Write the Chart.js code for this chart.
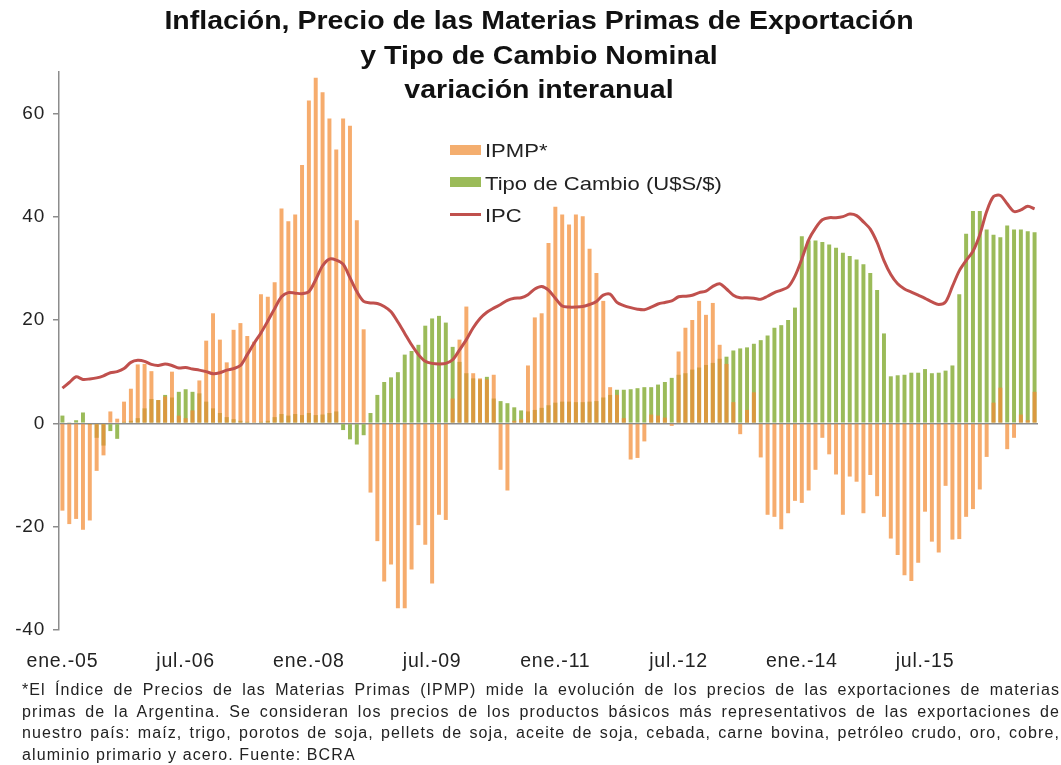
<!DOCTYPE html>
<html lang="es">
<head>
<meta charset="utf-8">
<title>Inflación, Precio de las Materias Primas de Exportación y Tipo de Cambio Nominal</title>
<script src="https://cdn.jsdelivr.net/npm/chart.js@4.4.1/dist/chart.umd.min.js"></script>
<style>
html,body{margin:0;padding:0;background:#fff;}
body{width:1061px;height:765px;position:relative;overflow:hidden;font-family:"Liberation Sans",Arial,sans-serif;color:#222;}
#grafico{position:absolute;left:0;top:0;}
.titulo{position:absolute;left:0;top:3px;width:1078px;text-align:center;font-weight:bold;font-size:25px;line-height:34.5px;color:#111;transform:scaleX(1.14);transform-origin:539px 0;}
.leyenda{position:absolute;left:450px;top:135px;font-size:19px;color:#222;}
.leyenda .item{height:32.5px;line-height:32.5px;white-space:nowrap;}
.leyenda .sw{display:inline-block;width:31px;vertical-align:middle;margin-right:4px;position:relative;top:-2px;}
.leyenda .txt{display:inline-block;transform:scaleX(1.16);transform-origin:0 50%;}
.sw.naranja{height:10px;background:#f4ae6f;}
.sw.verde{height:10px;background:#9bbb59;}
.sw.linea{height:3px;background:#c0504d;}
.nota{position:absolute;left:22px;top:679px;width:1038px;font-size:16px;letter-spacing:1.1px;line-height:21.5px;color:#222;}
.nota div{text-align:justify;text-align-last:justify;white-space:nowrap;}
.nota div.ultima{text-align-last:left;}
</style>
</head>
<body>
<canvas id="grafico" width="1061" height="680"></canvas>
<div class="titulo">Inflación, Precio de las Materias Primas de Exportación<br>y Tipo de Cambio Nominal<br>variación interanual</div>
<div class="leyenda">
  <div class="item"><span class="sw naranja"></span><span class="txt">IPMP*</span></div>
  <div class="item"><span class="sw verde"></span><span class="txt">Tipo de Cambio (U$S/$)</span></div>
  <div class="item"><span class="sw linea"></span><span class="txt">IPC</span></div>
</div>
<div class="nota">
  <div>*El Índice de Precios de las Materias Primas (IPMP) mide la evolución de los precios de las exportaciones de materias</div>
  <div>primas de la Argentina. Se consideran los precios de los productos básicos más representativos de las exportaciones de</div>
  <div>nuestro país: maíz, trigo, porotos de soja, pellets de soja, aceite de soja, cebada, carne bovina, petróleo crudo, oro, cobre,</div>
  <div class="ultima">aluminio primario y acero. Fuente: BCRA</div>
</div>
<script>
// meses ene.-05 ... nov.-16
const mesesAbrev = ['ene.','feb.','mar.','abr.','may.','jun.','jul.','ago.','sep.','oct.','nov.','dic.'];
const anios = ['05','06','07','08','09','10','11','12','13','14','15','16'];
const etiquetasVisibles = ['ene.-05','jul.-06','ene.-08','jul.-09','ene.-11','jul.-12','ene.-14','jul.-15'];

// IPMP* (var. % i.a.)
const ipmp = [
-16.9,-19.5,-18.5,-20.6,-18.8,-9.2,-6.2,2.3,0.9,4.2,6.7,11.4,
11.5,10.1,4.5,5.2,10.0,1.5,1.0,2.5,8.3,16.0,21.3,16.2,
11.8,18.1,19.4,16.9,15.8,25.0,24.5,27.3,41.6,39.1,40.4,50.0,
62.5,66.9,64.1,59.0,53.0,59.0,57.6,39.3,18.2,-13.4,-22.8,-30.6,
-27.3,-35.8,-35.8,-28.3,-19.7,-23.5,-31.0,-17.7,-18.7,4.8,16.2,22.6,
9.7,8.7,8.5,9.4,-9.0,-13.0,0.5,0.8,11.2,20.5,21.3,34.9,
41.9,40.4,38.5,40.4,40.1,33.8,29.1,23.7,7.0,5.5,1.0,-7.0,
-6.7,-3.5,1.7,1.5,1.1,-0.5,13.9,18.5,20.0,23.7,21.0,23.3,
15.2,11.5,4.1,-2.1,2.6,6.0,-6.6,-17.7,-18.1,-20.5,-17.4,-15.0,
-15.4,-13.0,-9.0,-2.8,-6.0,-9.9,-17.7,-10.3,-11.3,-17.4,-10.0,-14.1,
-18.1,-22.3,-25.5,-29.4,-30.5,-27.0,-17.1,-22.9,-25.0,-12.1,-22.5,-22.4,
-18.1,-16.6,-12.8,-6.5,4.0,6.9,-5.0,-2.8,1.7,0.6,6.1
];

// Tipo de Cambio (U$S/$)
const tipoCambio = [
1.5,0.2,0.6,2.1,-0.3,-2.8,-4.3,-1.5,-3.0,0.3,0.5,1.0,
2.9,4.7,4.5,5.5,5.0,6.1,6.6,6.1,5.8,4.2,2.9,2.0,
1.2,0.8,0.5,0.3,0.2,0.3,0.5,1.2,1.8,1.5,1.8,1.6,
2.0,1.6,1.7,2.0,2.3,-1.3,-3.1,-4.1,-2.3,2.0,5.5,8.0,
8.9,9.9,13.3,14.0,15.2,18.9,20.3,20.8,19.5,14.8,11.9,9.7,
8.7,8.5,9.0,4.8,4.3,3.9,3.1,2.5,2.3,2.6,3.0,3.5,
4.0,4.2,4.2,4.1,4.1,4.2,4.3,5.0,5.5,6.5,6.5,6.6,
6.8,7.0,7.0,7.5,8.0,8.8,9.4,9.7,10.4,10.8,11.3,11.7,
12.5,12.9,14.1,14.5,14.7,15.4,16.1,17.0,18.5,19.0,20.0,22.4,
36.2,35.4,35.4,35.1,34.6,34.0,33.0,32.4,31.7,30.8,29.1,25.8,
17.4,9.1,9.3,9.4,9.8,9.8,10.5,9.7,9.8,10.2,11.2,25.0,
36.7,41.1,41.1,37.5,36.5,36.0,38.3,37.5,37.5,37.2,37.0
];

// IPC
const ipc = [
6.8,7.9,9.0,8.5,8.6,8.8,9.2,9.8,10.0,10.6,11.8,12.2,
12.0,11.4,11.2,11.5,11.2,10.7,10.8,10.5,10.3,10.0,9.6,9.8,
10.3,10.6,11.2,13.3,15.5,17.5,19.8,22.2,24.5,25.3,25.2,25.1,
25.5,27.8,30.5,31.8,31.6,30.8,28.2,25.5,23.6,23.3,23.2,22.6,
21.6,19.6,17.4,15.2,13.3,12.0,11.6,11.5,11.6,12.3,14.2,16.2,
18.5,20.3,21.5,22.3,23.0,23.8,24.2,24.3,24.9,26.0,26.5,25.8,
24.2,22.7,22.5,22.5,22.6,23.0,23.6,24.8,25.0,23.4,22.8,22.4,
22.1,22.0,22.5,23.1,23.4,23.7,24.5,24.6,24.8,25.3,25.6,26.5,
27.0,26.0,24.8,24.3,24.3,24.2,24.0,24.6,25.3,25.8,26.4,28.5,
31.8,35.5,37.8,39.4,39.8,39.8,40.0,40.5,40.2,39.0,37.6,35.0,
31.5,28.8,27.0,26.0,25.4,24.8,24.2,23.5,23.0,23.5,26.5,29.5,
31.5,33.3,36.5,41.0,43.9,44.1,42.5,41.0,41.3,42.0,41.5
];

let etiquetas = [];
anios.forEach(a => {
  mesesAbrev.forEach(m => etiquetas.push(m + '-' + a));
});
etiquetas = etiquetas.slice(0, ipc.length);

const fuenteY = {family: '"Liberation Sans", Arial, sans-serif', size: 19};
const fuenteX = {family: '"Liberation Sans", Arial, sans-serif', size: 19.5};

// the reference lettering is a bit wider than Liberation Sans
const espaciado = {
  id: 'espaciado',
  beforeDraw(chart) {
    chart.ctx.letterSpacing = '0.8px';
  }
};

new Chart(document.getElementById('grafico'), {
  type: 'bar',
  data: {
    labels: etiquetas,
    datasets: [{
      type: 'line',
      label: 'IPC',
      data: ipc,
      borderColor: '#c0504d',
      borderWidth: 3,
      pointRadius: 0,
      tension: 0.3,
      fill: false,
      order: 0
    }, {
      label: 'IPMP*',
      data: ipmp,
      backgroundColor: 'rgba(242,140,52,0.72)',
      grouped: false,
      barPercentage: 0.58,
      categoryPercentage: 1,
      order: 1
    }, {
      label: 'Tipo de Cambio (U$S/$)',
      data: tipoCambio,
      backgroundColor: '#9bbb59',
      grouped: false,
      barPercentage: 0.58,
      categoryPercentage: 1,
      order: 2
    }]
  },
  options: {
    responsive: false,
    animation: false,
    devicePixelRatio: 1,
    layout: {padding: {top: 72, right: 23, left: 0, bottom: 0}},
    plugins: {
      legend: {display: false},
      tooltip: {enabled: false}
    },
    scales: {
      x: {
        offset: true,
        grid: {display: false},
        border: {display: false},
        ticks: {
          autoSkip: false,
          maxRotation: 0,
          minRotation: 0,
          padding: 12,
          color: '#222',
          font: fuenteX,
          callback: function (value) {
            const l = this.getLabelForValue(value);
            return etiquetasVisibles.includes(l) ? l : '';
          }
        },
        afterFit: function (scale) { scale.height = 50; }
      },
      y: {
        min: -40,
        max: 68,
        border: {display: true, color: '#8c8c8c', width: 1.5},
        grid: {
          drawOnChartArea: true,
          color: ctx => (ctx.tick && ctx.tick.value === 0) ? '#8c8c8c' : 'rgba(0,0,0,0)',
          tickColor: '#8c8c8c',
          lineWidth: 1.5,
          tickLength: 6
        },
        ticks: {
          stepSize: 20,
          includeBounds: false,
          padding: 8,
          color: '#222',
          font: fuenteY
        },
        afterFit: function (scale) { scale.width = 59; }
      }
    }
  },
  plugins: [espaciado]
});
</script>
</body>
</html>
